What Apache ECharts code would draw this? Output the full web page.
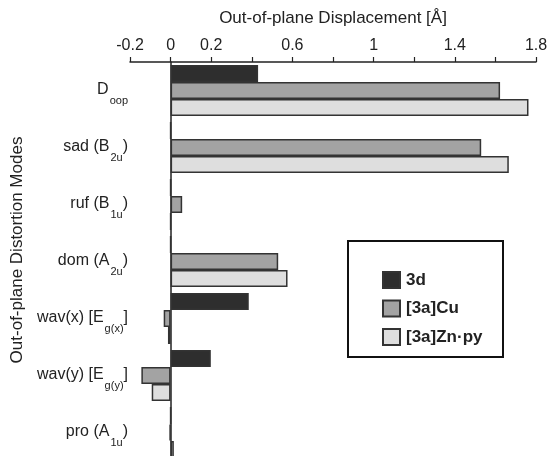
<!DOCTYPE html>
<html>
<head>
<meta charset="utf-8">
<script src="https://cdn.jsdelivr.net/npm/echarts@6/dist/echarts.min.js"></script>
<style>
  html, body { margin: 0; padding: 0; background: #fff; }
  #chart { width: 547px; height: 456px; }
</style>
</head>
<body>
<div id="chart"></div>
<script>
// category labels: main part, subscript, closing part
const catMain = ['D', 'sad (B', 'ruf (B', 'dom (A', 'wav(x) [E', 'wav(y) [E', 'pro (A']
const catSub = ['oop', '2u', '1u', '2u', 'g(x)', 'g(y)', '1u']
const catTail = ['', ')', ')', ')', ']', ']', ')']

const seriesNames = ['3d', '[3a]Cu', '[3a]Zn·py']
const vals3d = [0.431, 0, 0, 0, 0.385, 0.198, 0]
const valsCu = [1.623, 1.530, 0.057, 0.530, -0.034, -0.144, -0.005]
const valsZn = [1.763, 1.666, 0, 0.576, -0.013, -0.093, 0.016]

const tickLabels = ['-0.2', '0', '0.2', '0.6', '1', '1.4', '1.8']

const colors = ['#2e2e2e', '#a3a3a3', '#dedede']
const font = 'Liberation Sans'

const categories = catMain.map((m, i) => m + '|' + catSub[i] + '|' + catTail[i])

const chart = echarts.init(document.getElementById('chart'))

function makeSeries(name, data, idx) {
  return {
    name: name,
    type: 'bar',
    data: data,
    barWidth: 17,
    barGap: '0%',
    itemStyle: {
      color: colors[idx],
      borderColor: '#333',
      borderWidth: 1.5
    }
  }
}

chart.setOption({
  animation: false,
  textStyle: { fontFamily: font },
  grid: {
    left: 130,
    right: 11,
    top: 62,
    bottom: -5,
    outerBoundsMode: 'none',
    containLabel: false
  },
  xAxis: {
    type: 'value',
    position: 'top',
    min: -0.2,
    max: 1.8,
    interval: 0.2,
    name: 'Out-of-plane Displacement [Å]',
    nameLocation: 'middle',
    nameGap: 35,
    nameTextStyle: { fontSize: 17, color: '#222' },
    axisLine: { show: true, lineStyle: { color: '#222', width: 1.5 } },
    axisTick: { show: true, inside: false, length: 5, lineStyle: { color: '#222', width: 1.2 } },
    splitLine: { show: false },
    axisLabel: {
      fontSize: 16,
      color: '#222',
      margin: 8,
      formatter: function(v) {
        const s = String(Math.round(v * 10) / 10)
        return tickLabels.indexOf(s) >= 0 ? s : ''
      }
    }
  },
  yAxis: {
    type: 'category',
    inverse: true,
    data: categories,
    name: 'Out-of-plane Distortion Modes',
    nameLocation: 'middle',
    nameRotate: 90,
    nameGap: 101,
    nameTextStyle: { fontSize: 17, color: '#222', padding: [0, 0, 0, 23] },
    axisLine: { show: true, onZero: true, lineStyle: { color: '#222', width: 1.5 } },
    axisTick: { show: false },
    axisLabel: {
      margin: 2,
      padding: [3, 0, 0, 0],
      formatter: function(v) {
        const p = v.split('|')
        let s = '{m|' + p[0] + '}{s|' + p[1] + '}'
        if (p[2]) s += '{m|' + p[2] + '}'
        return s
      },
      rich: {
        m: { fontSize: 16, color: '#222', lineHeight: 20, verticalAlign: 'top', fontFamily: font },
        s: { fontSize: 11, color: '#222', lineHeight: 12, verticalAlign: 'top', padding: [13, 0, 0, 1], fontFamily: font }
      }
    }
  },
  legend: {
    orient: 'vertical',
    left: 377,
    top: 266,
    itemWidth: 17,
    itemHeight: 16,
    itemGap: 10.5,
    icon: 'rect',
    data: seriesNames,
    textStyle: { fontSize: 17, fontWeight: 'bold', color: '#222', padding: [0, 0, 0, 1] }
  },
  graphic: [
    {
      type: 'rect',
      shape: { x: 348, y: 241, width: 155, height: 116 },
      style: { fill: 'none', stroke: '#111', lineWidth: 2 },
      silent: true
    }
  ],
  series: [
    makeSeries(seriesNames[0], vals3d, 0),
    makeSeries(seriesNames[1], valsCu, 1),
    makeSeries(seriesNames[2], valsZn, 2)
  ]
})
</script>
</body>
</html>
